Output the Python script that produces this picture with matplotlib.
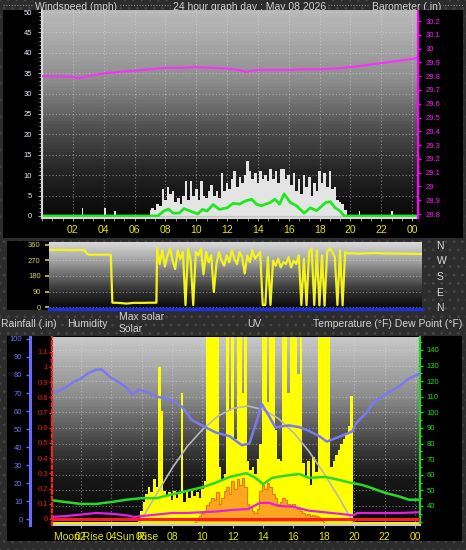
import numpy as np
import matplotlib
matplotlib.use("Agg")
import matplotlib.pyplot as plt
from matplotlib.patches import Rectangle
from matplotlib.lines import Line2D
from matplotlib.ticker import MultipleLocator

W, H, DPI = 466, 550, 100
plt.rcParams['font.family'] = ['Liberation Sans', 'DejaVu Sans']
plt.rcParams['hatch.color'] = '#454545'
plt.rcParams['hatch.linewidth'] = 0.8

# ====================== DATA ======================
hour_ticks = [2, 4, 6, 8, 10, 12, 14, 16, 18, 20, 22, 24]
hour_labels = ['02', '04', '06', '08', '10', '12', '14', '16', '18', '20', '22', '00']
sample_step = 1 / 6          # 10-minute samples

# --- wind speed (mph) ---
wind_ticks = [0, 5, 10, 15, 20, 25, 30, 35, 40, 45, 50]
gust_day_start = 7.0
gust_day_values = [1.5, 2, 1.5, 3, 2.5, 6.5, 4, 7, 5.5, 6, 3.5, 4.5,
                   3, 5, 8.5, 4, 8.5, 5, 6.5, 4, 8.5, 5, 4.5, 6,
                   7.5, 5, 6, 4.5, 10.5, 6, 8, 6.5, 9, 11, 7, 9.5,
                   8, 10, 13.5, 11, 9, 10.5, 8, 11, 9, 10, 8.5, 11.5,
                   9, 11, 8, 11.5, 11.5, 9, 10, 7.5, 10.5, 6, 9, 5.5,
                   10, 7, 9.5, 5, 8, 6, 11, 8, 10.5, 7, 11, 6.5,
                   7, 4, 3.5, 3, 1.5, 0]
gust_night_hours = [2.64, 4.1, 4.74, 20.6, 22.7]
gust_night_values = [2.0, 2.0, 1.3, 1.2, 1.2]
avg_hours = [0, 7.5, 7.9, 8.2, 8.5, 8.9, 9.2, 9.6, 10.1, 10.4,
             10.7, 11.1, 11.5, 12.0, 12.4, 12.8, 13.2, 13.6, 13.9, 14.2,
             14.8, 15.1, 15.4, 15.7, 16.1, 16.5, 17.0, 17.4, 17.8, 18.4,
             18.7, 19.0, 19.3, 19.6, 24.4]
avg_values = [0, 0, 1.2, 1.7, 0.7, 0.7, 1.8, 1.2, 0.5, 1.6,
              1.2, 2.8, 1.6, 2.0, 3.1, 2.9, 3.7, 4.1, 2.9, 2.5,
              3.3, 4.1, 2.9, 5.4, 3.3, 2.5, 0.7, 2.0, 1.3, 3.3,
              3.5, 2.0, 1.3, 0, 0]

# --- barometer (in) ---
baro_ticks = [28.8, 28.9, 29.0, 29.1, 29.2, 29.3, 29.4, 29.5, 29.6, 29.7,
              29.8, 29.9, 30.0, 30.1, 30.2]
baro_hours = [0, 1, 2, 2.4, 3, 4, 5, 6, 7, 8, 9, 10, 11, 12, 12.8, 13.2,
              13.6, 14, 15, 16, 17, 18, 19, 20, 21, 22, 23, 24, 24.4]
baro_values = [29.80, 29.80, 29.795, 29.785, 29.80, 29.82, 29.83, 29.84,
               29.85, 29.86, 29.86, 29.865, 29.86, 29.855, 29.845, 29.83,
               29.84, 29.845, 29.845, 29.845, 29.85, 29.85, 29.855, 29.865,
               29.88, 29.895, 29.91, 29.925, 29.935]

# --- wind direction (deg) ---
dir_ticks = [0, 90, 180, 270, 360]
compass_labels = ['N', 'E', 'S', 'W', 'N']
dir_am_hours = [0, 0.5, 1, 1.5, 2, 2.3, 2.45, 2.6, 3, 3.5, 4.0, 4.1,
                4.5, 5, 5.5, 6, 6.5, 6.95]
dir_am_values = [330, 332, 331, 330, 331, 330, 310, 303, 304, 304, 304, 25,
                 24, 20, 24, 24, 25, 25]
dir_day_start = 7.0
dir_day_values = [345, 250, 330, 235, 300, 340, 270, 220, 330, 280, 320, 12,
                  340, 270, 12, 320, 300, 340, 190, 320, 260, 300, 87, 250,
                  320, 270, 240, 300, 260, 330, 280, 250, 320, 290, 195, 300,
                  260, 330, 280, 300, 320, 12, 12, 290, 12, 270, 240, 280,
                  230, 260, 250, 290, 230, 270, 250, 300, 12, 280, 12, 320,
                  340, 12, 330, 10, 300, 8, 320, 340, 320, 290, 12, 330,
                  10, 320, 310]
dir_pm_hours = [19.5, 20, 20.5, 21, 21.5, 22, 22.5, 23, 23.5, 24, 24.2]
dir_pm_values = [312, 310, 312, 314, 312, 311, 310, 310, 309, 308, 308]

# --- solar / UV ---
solar_start = 5.5
solar_values = [0, 0, 20, 60, 110, 150, 190, 160, 230, 190, 840, 600,
                170, 140, 160, 120, 170, 130, 150, 700, 110, 160, 130, 170,
                140, 160, 130, 180, 220, 1100, 1100, 1100, 1100, 1100, 300, 230,
                260, 1100, 600, 1100, 450, 1100, 1100, 700, 1100, 330, 280, 300,
                260, 340, 420, 1100, 1100, 650, 1100, 1100, 500, 340, 330, 1100,
                1100, 700, 1100, 1100, 1100, 800, 1100, 320, 250, 330, 200, 350,
                270, 1100, 1100, 1100, 1100, 1100, 300, 330, 360, 390, 420, 450,
                480, 520, 680, 0, 0]
maxsol_hours = [5.9, 6, 7, 8, 9, 10, 11, 12, 13, 14, 15, 16, 17, 18, 19, 19.9]
maxsol_values = [0, 14, 153, 290, 408, 499, 571, 614, 627, 608, 560, 483,
                 384, 264, 131, 0]
uv_start = 9.5
uv_values = [0, 0.2, 0.3, 0.5, 0.6, 0.9, 1.1, 1.3, 1.2, 1.6, 1.0, 1.3,
             1.7, 1.9, 1.5, 2.2, 1.8, 2.3, 2.0, 2.4, 1.9, 1.0, 0.8, 0.6,
             0.5, 0.7, 1.7, 2.0, 1.8, 2.1, 1.9, 1.5, 1.3, 1.0, 1.1, 1.3,
             1.2, 1.0, 0.9, 1.0, 0.8, 0.7, 0.6, 0.5, 0.4, 0.45, 0.35, 0.4,
             0.3, 0.25, 0.1, 0]

# --- temperature / dew point (F), humidity (%), rain (in) ---
temp_ticks = [40, 50, 60, 70, 80, 90, 100, 110, 120, 130, 140]
temp_hours = [0, 1, 2, 3, 4, 5, 6, 7, 7.4, 8.7, 10, 10.9, 11.8, 12.9, 13.5,
              14, 14.6, 15.5, 16.4, 17, 18.1, 19, 19.7, 20.5, 21, 22, 23,
              23.6, 24.4]
temp_values = [43.8, 42.5, 41.3, 41.3, 42.5, 44, 45, 45, 46, 49, 52, 55,
               58.6, 61, 58, 54, 58, 59.5, 60.5, 58, 58.6, 56.7, 55, 53.5,
               52, 48.5, 46, 44, 44]
dew_hours = [0, 1, 2, 3, 4, 5, 5.5, 6, 7, 8, 9, 10, 11, 12, 13, 13.8, 14.4,
             15, 16, 17, 18, 19, 19.9, 20.2, 21, 22, 23, 24.4]
dew_values = [33, 33.5, 34.5, 35.5, 35, 34, 33, 33.5, 34.5, 35.5, 35.5, 36,
              36.5, 37.5, 38, 42, 42, 40, 39.5, 37, 36, 35, 34, 35.5, 35.5,
              35.5, 35.5, 36]
hum_ticks = [0, 10, 20, 30, 40, 50, 60, 70, 80, 90, 100]
hum_hours = [0, 0.5, 1, 1.5, 2, 2.5, 3, 3.4, 3.9, 4.5, 5, 5.4, 5.8, 6.5, 7,
             8, 8.7, 9.3, 10.2, 10.9, 11.8, 12.6, 13.1, 13.6, 13.9, 14.4,
             14.8, 15.7, 16.4, 17, 17.7, 18.2, 18.8, 19.7, 19.9, 20.1, 20.8,
             21.3, 22.3, 23, 23.6, 24.4]
hum_values = [70, 71, 73, 76, 78, 81, 83, 83, 79, 76, 73, 69, 72, 70, 68,
              66, 62, 55, 51, 48, 46, 41, 42, 55, 64, 57, 51, 52, 51, 49, 46,
              43, 45, 48, 49, 53, 59, 65, 70.5, 74, 78, 81]
rain_ticks = [0, 0.1, 0.2, 0.3, 0.4, 0.5, 0.6, 0.7, 0.8, 0.9, 1.0, 1.1]
rain_hours = [0, 24.4]
rain_values = [0, 0]
moonrise_hour = 1.88
sunrise_hour = 5.69

# ====================== FIGURE ======================
fig = plt.figure(figsize=(W / DPI, H / DPI), dpi=DPI)
fig.patch.set_facecolor('#2c2c2c')


def px_rect(x0, y0, x1, y1):
    return [x0 / W, 1 - y1 / H, (x1 - x0) / W, (y1 - y0) / H]


def fig_box(x0, y0, x1, y1, **kw):
    r = px_rect(x0, y0, x1, y1)
    fig.patches.append(Rectangle((r[0], r[1]), r[2], r[3],
                                 transform=fig.transFigure, **kw))


# textured background and black panels
fig_box(0, 0, W, H, facecolor='#2c2c2c', edgecolor='#454545', hatch='..',
        lw=0, zorder=-10)
fig.lines.append(Line2D([3 / W, 463 / W], [1 - 5 / H] * 2,
                        transform=fig.transFigure, color='#8c8c8c',
                        ls=(0, (1, 1.5)), lw=0.8, zorder=-9.5))
fig_box(3, 10, 463, 238, facecolor='black', lw=0, zorder=-7)
fig_box(7, 241, 49, 310, facecolor='black', lw=0, zorder=-7)
fig_box(7, 336, 462, 541, facecolor='black', lw=0, zorder=-7)

txt_kw = dict(color='#d2d2d2', fontsize=7.5)
for x, s in [(35, 'Windspeed (mph)'), (173, '24 hour graph day : May 08 2026'),
             (372, 'Barometer (.in)')]:
    fig.text(x / W, 1 - 9.5 / H, s, ha='left', va='baseline', zorder=-8,
             bbox=dict(facecolor='#2c2c2c', edgecolor='none', pad=1.2), **txt_kw)

for x, y, s in [(1, 324, 'Rainfall (.in)'), (67, 324, 'Humidity'),
                (119, 317, 'Max solar'), (119, 329, 'Solar'), (247, 324, 'UV'),
                (313, 324, 'Temperature (°F) Dew Point (°F)')]:
    fig.text(x / W, 1 - y / H, s, ha='left', va='center', **txt_kw)


def add_bg(rect, xlim, ylim, stops, xgrid, ygrid):
    bg = fig.add_axes(rect, zorder=0)
    pos = np.linspace(0, 1, 60)
    vals = np.interp(pos, [s[0] for s in stops], [s[1] for s in stops])
    img = np.repeat(vals[:, None], 2, axis=1)
    bg.imshow(img, cmap='gray', vmin=0, vmax=1, aspect='auto',
              extent=[xlim[0], xlim[1], ylim[0], ylim[1]], origin='upper',
              interpolation='nearest')
    bg.set_xlim(xlim)
    bg.set_ylim(ylim)
    for s in bg.spines.values():
        s.set_visible(False)
    bg.set_xticks(xgrid)
    bg.set_yticks(ygrid)
    bg.tick_params(length=0, labelbottom=False, labelleft=False)
    bg.grid(True, color='#e0e0e0', linestyle=(0, (1, 2)), linewidth=0.8,
            alpha=0.5)
    return bg


def clear(ax):
    ax.set_facecolor('none')
    for s in ax.spines.values():
        s.set_visible(False)


YELLOW = '#e6e600'

# ---------------- Panel 1: wind + barometer ----------------
r1 = px_rect(42, 10, 418, 218)
xl1 = (0, 24.38)
wl = (-0.5, 50.5)
bl = (28.771, 30.28)
add_bg(r1, xl1, wl, [(0, 0.72), (0.1, 0.68), (0.34, 0.55), (0.58, 0.30),
                     (0.77, 0.15), (1.0, 0.03)], hour_ticks, wind_ticks)

ax1 = fig.add_axes(r1, zorder=2)
clear(ax1)
gust_day_hours = gust_day_start + sample_step * np.arange(len(gust_day_values))
ax1.fill_between(gust_day_hours, 0, gust_day_values, step='mid',
                 color='#e4e4e4', lw=0)
ax1.bar(gust_night_hours, gust_night_values, width=0.1, color='#e4e4e4', lw=0)
ax1.axhline(0, color='#c4c4c4', lw=0.9)
ax1.plot(avg_hours, avg_values, color='#1ee81e', lw=2)
ax1.set_xlim(xl1)
ax1.set_ylim(wl)
ax1.set_yticks(wind_ticks)
ax1.set_yticklabels([str(v) for v in wind_ticks])
ax1.yaxis.set_minor_locator(MultipleLocator(1))
ax1.tick_params(axis='y', which='major', colors='#a0a0a0', labelcolor='#e6eeff',
                labelsize=5.5, length=3, width=0.8, pad=4)
ax1.tick_params(axis='y', which='minor', colors='#a0a0a0', length=2, width=0.6)
ax1.set_xticks(hour_ticks)
ax1.set_xticklabels(hour_labels)
ax1.xaxis.set_minor_locator(MultipleLocator(2 / 3))
ax1.tick_params(axis='x', which='major', colors='#a0a0a0', labelcolor=YELLOW,
                labelsize=7.5, length=2, width=0.8, pad=3)
ax1.tick_params(axis='x', which='minor', colors='#a0a0a0', length=2, width=0.6)
for side in ('left', 'bottom'):
    ax1.spines[side].set_visible(True)
    ax1.spines[side].set_color('#d8d8d8')
    ax1.spines[side].set_linewidth(1.5)

axb = fig.add_axes(r1, zorder=3, sharex=ax1)
clear(axb)
axb.plot(baro_hours, baro_values, color='#ff2cff', lw=1.5)
axb.set_ylim(bl)
axb.xaxis.set_visible(False)
axb.yaxis.tick_right()
axb.set_yticks(baro_ticks)
axb.set_yticklabels([f'{v:g}' for v in baro_ticks])
axb.tick_params(axis='y', colors='#ff00ff', labelcolor='#ff1aff',
                labelsize=5.5, length=2.5, width=1, pad=3)
axb.spines['right'].set_visible(True)
axb.spines['right'].set_color('#ff00ff')
axb.spines['right'].set_linestyle((0, (1, 1)))
axb.spines['right'].set_linewidth(1.6)

# ---------------- Panel 2: wind direction ----------------
r2 = px_rect(49, 242, 422, 309)
xl2 = (0, 24.14)
dl = (-11.6, 377.4)
add_bg(r2, xl2, dl, [(0, 0.86), (0.3, 0.62), (0.5, 0.42), (0.75, 0.18),
                     (1, 0.03)], [], dir_ticks)
ax2 = fig.add_axes(r2, zorder=2)
clear(ax2)
dir_day_hours = dir_day_start + sample_step * np.arange(len(dir_day_values))
dir_hours = np.concatenate([dir_am_hours, dir_day_hours, dir_pm_hours])
dir_values = np.concatenate([dir_am_values, dir_day_values, dir_pm_values])
ax2.plot(dir_hours, dir_values, color='#f4f41c', lw=1.6)
ax2.set_xlim(xl2)
ax2.set_ylim(dl)
ax2.set_xticks([])
ax2.set_yticks(dir_ticks)
ax2.set_yticklabels([str(v) for v in dir_ticks])
ax2.tick_params(axis='y', colors='#c8c84a', labelcolor='#cccc50',
                labelsize=5.5, length=3, width=1.2, pad=3)
ax2.spines['bottom'].set_visible(True)
ax2.spines['bottom'].set_color('#2030d8')
ax2.spines['bottom'].set_linewidth(2.5)

ax2r = fig.add_axes(r2, zorder=3)
clear(ax2r)
ax2r.set_xlim(xl2)
ax2r.set_ylim(dl)
ax2r.set_xticks([])
ax2r.yaxis.tick_right()
ax2r.set_yticks(dir_ticks)
ax2r.set_yticklabels(compass_labels)
ax2r.tick_params(axis='y', length=0, labelcolor='#d8d8d8', labelsize=7.5,
                 pad=10.5)

# ---------------- Panel 3: solar, UV, temps, humidity, rain ----------------
r3 = px_rect(52, 337, 420, 525)
xl3 = (0.1, 24.33)
tl = (27.8, 148.3)
hl = (-3.3, 101.1)
rl = (-0.04, 1.197)
sl = (-16, 1000)
ul = (-0.16, 10)
add_bg(r3, xl3, tl, [(0, 0.78), (0.32, 0.54), (0.585, 0.24), (0.76, 0.09),
                     (1, 0.04)], hour_ticks, temp_ticks)

axs = fig.add_axes(r3, zorder=1)
clear(axs)
solar_hours = solar_start + sample_step * np.arange(len(solar_values))
axs.axhspan(sl[0], 0, color='#f2ee10', lw=0)
axs.fill_between(solar_hours, 0, solar_values, step='mid', color='#ffff00', lw=0)
axs.set_xlim(xl3)
axs.set_ylim(sl)
axs.axis('off')

axu = fig.add_axes(r3, zorder=2)
clear(axu)
uv_hours = uv_start + sample_step * np.arange(len(uv_values))
axu.fill_between(uv_hours, 0, uv_values, step='mid', color='#ffa51f', lw=0)
axu.step(uv_hours, uv_values, where='mid', color='#e47a00', lw=0.8)
axu.set_xlim(xl3)
axu.set_ylim(ul)
axu.axis('off')

axm = fig.add_axes(r3, zorder=3)
clear(axm)
axm.plot(maxsol_hours, maxsol_values, color='#b8b8b8', lw=1.2)
axm.set_xlim(xl3)
axm.set_ylim(sl)
axm.axis('off')

axt = fig.add_axes(r3, zorder=4)
clear(axt)
axt.plot(temp_hours, temp_values, color='#2ad82a', lw=1.8)
axt.plot(dew_hours, dew_values, color='#e41ee4', lw=1.6)
axt.set_xlim(xl3)
axt.set_ylim(tl)
axt.yaxis.tick_right()
axt.set_yticks(temp_ticks)
axt.set_yticklabels([str(v) for v in temp_ticks])
axt.yaxis.set_minor_locator(MultipleLocator(5))
axt.tick_params(axis='y', which='major', colors='#20d820', labelcolor='#20e020',
                labelsize=5.5, length=2.5, width=1, pad=2.5)
axt.tick_params(axis='y', which='minor', colors='#20d820', length=1.5, width=0.8)
axt.set_xticks(hour_ticks)
axt.set_xticklabels(hour_labels)
axt.tick_params(axis='x', colors='#a0a0a0', labelcolor=YELLOW, labelsize=7.5,
                length=2, width=0.8, pad=3)
axt.spines['bottom'].set_visible(True)
axt.spines['bottom'].set_color('#c8c8c8')
axt.spines['bottom'].set_linewidth(1.5)
axt.spines['right'].set_visible(True)
axt.spines['right'].set_color('#20d820')
axt.spines['right'].set_linestyle((0, (1, 1)))
axt.spines['right'].set_linewidth(1.6)
ylab = -12 / 188
axt.text(moonrise_hour, ylab, 'Moon Rise', transform=axt.get_xaxis_transform(),
         ha='center', va='center', color=YELLOW, fontsize=7.5, clip_on=False)
axt.text(sunrise_hour, ylab, 'Sun Rise', transform=axt.get_xaxis_transform(),
         ha='center', va='center', color=YELLOW, fontsize=7.5, clip_on=False)

axh = fig.add_axes(r3, zorder=5)
clear(axh)
axh.plot(hum_hours, hum_values, color='#7a7af0', lw=1.8)
axh.set_xlim(xl3)
axh.set_ylim(hl)
axh.set_xticks([])
axh.set_yticks(hum_ticks)
axh.set_yticklabels([str(v) for v in hum_ticks])
axh.spines['left'].set_visible(True)
axh.spines['left'].set_position(('outward', 15.8))
axh.spines['left'].set_color('#6a6aff')
axh.spines['left'].set_linewidth(2.2)
axh.tick_params(axis='y', colors='#6a6aff', labelcolor='#7474ff', labelsize=5.5,
                length=3, width=1, pad=2.5)

axr = fig.add_axes(r3, zorder=6)
clear(axr)
axr.plot(rain_hours, rain_values, color='#ff1c1c', lw=2.2)
axr.set_xlim(xl3)
axr.set_ylim(rl)
axr.set_xticks([])
axr.set_yticks(rain_ticks)
axr.set_yticklabels([f'{v:g}' for v in rain_ticks])
axr.yaxis.set_minor_locator(MultipleLocator(0.05))
axr.spines['left'].set_visible(True)
axr.spines['left'].set_color('#ff2020')
axr.spines['left'].set_linestyle((0, (1.5, 1.5)))
axr.spines['left'].set_linewidth(1.5)
axr.tick_params(axis='y', which='major', colors='#ff2020', labelcolor='#f01818',
                labelsize=5.5, length=2, width=1, pad=1)
axr.tick_params(axis='y', which='minor', colors='#ff2020', length=1.2, width=0.8)

fig.savefig('out.png', dpi=DPI, facecolor=fig.get_facecolor())
